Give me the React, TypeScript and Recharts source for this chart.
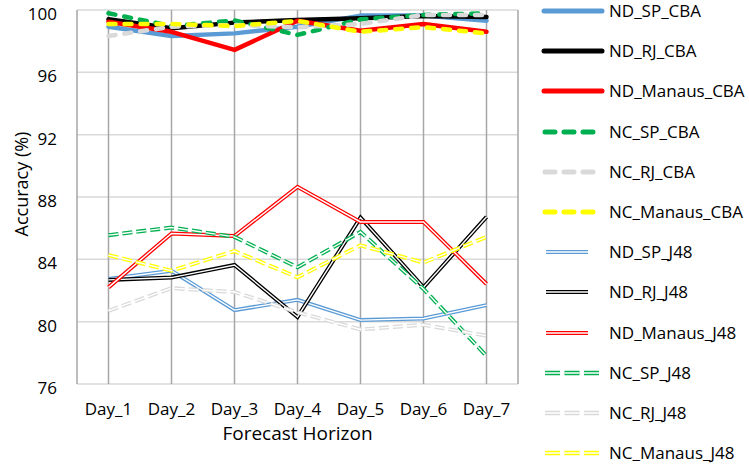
import { LineChart, Line, XAxis, YAxis, CartesianGrid } from "recharts";

const days = ["Day_1", "Day_2", "Day_3", "Day_4", "Day_5", "Day_6", "Day_7"];
const yTicks = [76, 80, 84, 88, 92, 96, 100];

const ndSpCba = [98.93, 98.33, 98.5, 98.93, 99.64, 99.64, 99.31];
const ndRjCba = [99.4, 98.83, 99.19, 99.36, 99.47, 99.62, 99.55];
const ndManausCba = [99.25, 98.6, 97.44, 99.31, 98.67, 99.1, 98.6];
const ncSpCba = [99.79, 98.97, 99.33, 98.4, 99.4, 99.68, 99.79];
const ncRjCba = [98.33, 98.93, 99.04, 98.89, 99.1, 99.68, 99.68];
const ncManausCba = [99.1, 99.1, 98.97, 99.3, 98.6, 98.9, 98.5];

const ndSpJ48 = [82.74, 83.27, 80.74, 81.4, 80.1, 80.2, 81.06];
const ndRjJ48 = [82.68, 82.83, 83.64, 80.3, 86.68, 82.21, 86.72];
const ndManausJ48 = [82.2, 85.66, 85.5, 88.65, 86.4, 86.4, 82.42];
const ncSpJ48 = [85.55, 86.04, 85.44, 83.49, 85.76, 82.1, 77.8];
const ncRjJ48 = [80.7, 82.15, 81.9, 80.6, 79.5, 79.8, 79.1];
const ncManausJ48 = [84.27, 83.27, 84.53, 82.85, 84.9, 83.79, 85.44];

type Style = "solid" | "dash" | "double" | "doubleDash";

const series: { key: string; color: string; style: Style; values: number[] }[] = [
  { key: "ND_SP_CBA", color: "#5b9bd5", style: "solid", values: ndSpCba },
  { key: "ND_RJ_CBA", color: "#000000", style: "solid", values: ndRjCba },
  { key: "ND_Manaus_CBA", color: "#ff0000", style: "solid", values: ndManausCba },
  { key: "NC_SP_CBA", color: "#00b050", style: "dash", values: ncSpCba },
  { key: "NC_RJ_CBA", color: "#d9d9d9", style: "dash", values: ncRjCba },
  { key: "NC_Manaus_CBA", color: "#ffff00", style: "dash", values: ncManausCba },
  { key: "ND_SP_J48", color: "#5b9bd5", style: "double", values: ndSpJ48 },
  { key: "ND_RJ_J48", color: "#000000", style: "double", values: ndRjJ48 },
  { key: "ND_Manaus_J48", color: "#ff0000", style: "double", values: ndManausJ48 },
  { key: "NC_SP_J48", color: "#00b050", style: "doubleDash", values: ncSpJ48 },
  { key: "NC_RJ_J48", color: "#d9d9d9", style: "doubleDash", values: ncRjJ48 },
  { key: "NC_Manaus_J48", color: "#ffff00", style: "doubleDash", values: ncManausJ48 },
];

const data = days.map((day, i) => {
  const row: Record<string, string | number> = { day };
  series.forEach((s) => (row[s.key] = s.values[i]));
  return row;
});

const font = "'Open Sans', sans-serif";

function renderSeries(s: (typeof series)[number]) {
  const common = {
    type: "linear" as const,
    dataKey: s.key,
    dot: false,
    activeDot: false,
    isAnimationActive: false,
  };
  if (s.style === "solid") {
    return [
      <Line key={s.key} {...common} stroke={s.color} strokeWidth={4.5} strokeLinecap="round" strokeLinejoin="round" />,
    ];
  }
  if (s.style === "dash") {
    return [
      <Line key={s.key} {...common} stroke={s.color} strokeWidth={4.5} strokeDasharray="7 9" strokeLinecap="round" strokeLinejoin="round" />,
    ];
  }
  const dash = s.style === "doubleDash" ? "10 4" : undefined;
  return [
    <Line key={s.key} {...common} stroke={s.color} strokeWidth={4} strokeDasharray={dash} />,
    <Line key={s.key + "_gap"} {...common} stroke="#ffffff" strokeWidth={1.4} strokeDasharray={dash} />,
  ];
}

function LegendSample({ color, style }: { color: string; style: Style }) {
  return (
    <svg width={64} height={20} style={{ display: "block" }}>
      {style === "solid" && (
        <line x1={3} y1={10} x2={61} y2={10} stroke={color} strokeWidth={5} strokeLinecap="round" />
      )}
      {style === "dash" && (
        <line x1={4} y1={10} x2={57} y2={10} stroke={color} strokeWidth={5} strokeLinecap="round" strokeDasharray="10 9" />
      )}
      {style === "double" && (
        <g>
          <line x1={5} y1={10} x2={47} y2={10} stroke={color} strokeWidth={4} />
          <line x1={5} y1={10} x2={47} y2={10} stroke="#ffffff" strokeWidth={1.4} />
        </g>
      )}
      {style === "doubleDash" && (
        <g>
          <line x1={4} y1={10} x2={60} y2={10} stroke={color} strokeWidth={4.5} strokeDasharray="15 4.5" />
          <line x1={4} y1={10} x2={60} y2={10} stroke="#ffffff" strokeWidth={1.4} strokeDasharray="15 4.5" />
        </g>
      )}
    </svg>
  );
}

export default function App() {
  return (
    <div style={{ position: "absolute", left: 0, top: 0, width: 749, height: 466, background: "#fff", fontFamily: font }}>
      <LineChart width={749} height={466} data={data} margin={{ top: 10, right: 231, bottom: 22, left: 30 }}>
        <CartesianGrid vertical={false} stroke="#d9d9d9" strokeWidth={1.5} />
        <CartesianGrid horizontal={false} stroke="#a6a6a6" strokeWidth={1.5} />
        <XAxis
          dataKey="day"
          axisLine={false}
          tickLine={false}
          tickSize={0}
          tickMargin={19}
          height={60}
          interval={0}
          padding={{ left: 31.5, right: 31.5 }}
          tick={{ fill: "#000", fontSize: 17, fontFamily: font }}
          label={{ value: "Forecast Horizon", position: "insideBottom", offset: 4, fill: "#000", fontSize: 19, fontFamily: font }}
        />
        <YAxis
          type="number"
          domain={[76, 100]}
          ticks={yTicks}
          axisLine={false}
          tickLine={false}
          tickSize={0}
          tickMargin={20}
          width={47}
          tick={{ fill: "#000", fontSize: 17, fontFamily: font, dy: 4 }}
          label={{ value: "Accuracy (%)", angle: -90, position: "insideLeft", offset: -8.5, dy: -13, fill: "#000", fontSize: 18, fontFamily: font, style: { textAnchor: "middle" } }}
        />
        {series.flatMap(renderSeries)}
      </LineChart>
      {series.map((s, i) => (
        <div
          key={s.key}
          style={{ position: "absolute", left: 541, top: 1 + i * 40.2, height: 20, display: "flex", alignItems: "center" }}
        >
          <LegendSample color={s.color} style={s.style} />
          <span style={{ marginLeft: 4, fontSize: 17, color: "#000", whiteSpace: "nowrap", lineHeight: "20px" }}>{s.key}</span>
        </div>
      ))}
    </div>
  );
}
